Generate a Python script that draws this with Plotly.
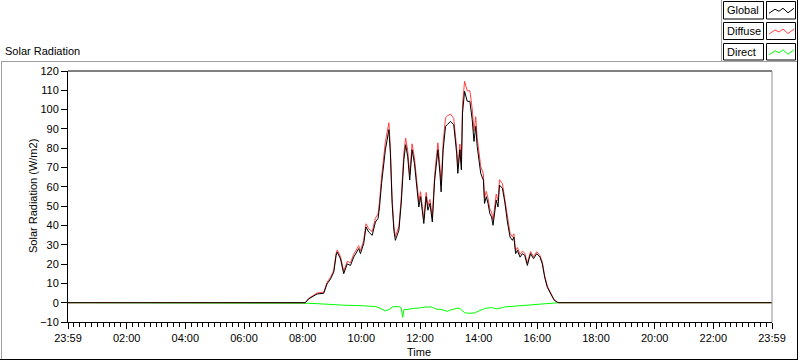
import plotly.graph_objects as go

# ---------------- data ----------------
time_h = [0.0, 8.09, 8.20, 8.49, 8.72, 8.83, 8.95, 9.06, 9.14, 9.18, 9.29, 9.40, 9.52, 9.63, 9.74,
          9.91, 9.97, 10.08, 10.16, 10.25, 10.37, 10.48, 10.57, 10.62, 10.69, 10.76, 10.82,
          10.94, 10.99, 11.05, 11.11, 11.16, 11.28, 11.36, 11.41, 11.45, 11.51, 11.58, 11.65,
          11.73, 11.81, 11.88, 11.96, 12.02, 12.08, 12.13, 12.21, 12.27, 12.34, 12.42, 12.50,
          12.56, 12.61, 12.68, 12.72, 12.79, 12.87, 12.93, 13.04, 13.15, 13.25, 13.29, 13.36,
          13.41, 13.45, 13.52, 13.61, 13.70, 13.78, 13.84, 13.90, 13.95, 14.01, 14.07, 14.16,
          14.20, 14.26, 14.32, 14.38, 14.44, 14.49, 14.55, 14.60, 14.66, 14.71, 14.81, 14.89,
          14.98, 15.07, 15.15, 15.20, 15.26, 15.32, 15.41, 15.49, 15.57, 15.66, 15.72, 15.77,
          15.87, 15.98, 16.09, 16.17, 16.25, 16.34, 16.46, 16.57, 16.68, 16.73, 24.0]

global_wm2 = [0, 0, 1.9, 4.5, 4.9, 9.7, 12.3, 15.8, 24.5, 26.2, 22.7, 15.0, 20.1, 19.3, 23.6,
              28.0, 25.4, 30.6, 39.2, 36.6, 34.9, 41.8, 43.6, 49.6, 61.8, 72.2, 79.2,
              89.6, 77.4, 51.4, 37.5, 32.3, 37.5, 51.4, 63.0, 74.0, 81.8, 75.7, 63.5,
              79.2, 72.2, 61.8, 49.6, 54.9, 47.9, 41.0, 54.9, 47.9, 51.4, 41.8, 63.5,
              74.0, 79.2, 67.0, 57.4, 79.2, 91.3, 92.2, 93.9, 92.2, 77.4, 67.0, 79.2,
              68.8, 98.3, 109.5, 104.3, 104.3, 94.8, 83.5, 91.3, 80.9, 74.8, 67.0, 63.5,
              51.4, 54.9, 51.4, 46.2, 44.4, 40.1, 47.9, 53.1, 49.6, 60.9, 59.2, 52.2,
              41.8, 34.0, 32.3, 34.0, 25.4, 27.1, 23.6, 25.4, 24.5, 19.3, 22.8, 25.4,
              22.8, 25.4, 23.6, 20.1, 13.2, 8.0, 4.5, 1.4, 0.2, 0, 0]

diffuse_wm2 = [0, 0, 2.2, 5.0, 5.5, 10.5, 13.2, 16.8, 25.6, 27.3, 23.9, 16.3, 21.4, 20.7, 25.1,
               29.5, 27.0, 32.2, 40.9, 38.3, 36.8, 43.8, 46.0, 52.4, 65.1, 76.0, 83.4,
               93.2, 80.4, 53.7, 39.6, 34.3, 39.5, 54.2, 70.6, 77.7, 85.3, 79.0, 66.5,
               82.3, 75.1, 64.8, 52.4, 57.5, 50.3, 43.3, 57.1, 50.2, 53.5, 44.2, 66.3,
               77.4, 82.8, 70.3, 60.9, 83.2, 95.8, 96.7, 97.7, 95.4, 80.3, 69.8, 82.2,
               72.4, 102.8, 114.7, 109.7, 109.8, 100.4, 88.9, 96.3, 85.5, 79.0, 70.6, 66.8,
               54.4, 57.7, 54.0, 48.6, 46.9, 42.8, 50.9, 56.3, 52.7, 63.7, 61.7, 54.4,
               43.9, 36.0, 34.1, 35.7, 27.0, 28.6, 25.0, 26.7, 25.7, 20.5, 23.9, 26.5,
               23.8, 26.4, 24.5, 21.0, 14.0, 8.7, 5.0, 1.7, 0.3, 0, 0]

direct_wm2 = [0, 0, -0.3, -0.5, -0.6, -0.8, -0.9, -1.0, -1.1, -1.1, -1.2, -1.3, -1.3, -1.4, -1.5,
              -1.5, -1.6, -1.6, -1.7, -1.7, -1.9, -2.0, -2.4, -2.8, -3.3, -3.8, -4.2,
              -3.6, -3.0, -2.3, -2.1, -2.0, -2.0, -2.8, -7.6, -3.7, -3.5, -3.3, -3.0,
              -3.1, -2.9, -3.0, -2.8, -2.6, -2.4, -2.3, -2.2, -2.3, -2.1, -2.4, -2.8,
              -3.4, -3.6, -3.3, -3.5, -4.0, -4.5, -4.5, -3.8, -3.2, -2.9, -2.8, -3.0,
              -3.6, -4.5, -5.2, -5.4, -5.5, -5.6, -5.4, -5.0, -4.6, -4.2, -3.6, -3.3,
              -3.0, -2.8, -2.6, -2.4, -2.5, -2.7, -3.0, -3.2, -3.1, -2.8, -2.5, -2.2,
              -2.1, -2.0, -1.8, -1.7, -1.6, -1.5, -1.4, -1.3, -1.2, -1.2, -1.1, -1.1,
              -1.0, -1.0, -0.9, -0.9, -0.8, -0.7, -0.5, -0.3, -0.1, 0, 0]

tick_hours = [0, 2, 4, 6, 8, 10, 12, 14, 16, 18, 20, 22, 24]
tick_labels = ["23:59", "02:00", "04:00", "06:00", "08:00", "10:00", "12:00",
               "14:00", "16:00", "18:00", "20:00", "22:00", "23:59"]
legend_names = ["Global", "Diffuse", "Direct"]
series_colors = ["#000000", "#ff4040", "#00ff00"]

# ---------------- layout geometry (pixels) ----------------
W, H = 800, 361
L, R, T, B = 68, 772, 71, 322   # plot area edges in pixels
FONT = "Liberation Sans, Arial, sans-serif"


def px(x):
    return (x - L) / (R - L)


def py(y):
    return (B - y) / (B - T)


fig = go.Figure()
for name, vals, col in [("Direct", direct_wm2, series_colors[2]),
                        ("Diffuse", diffuse_wm2, series_colors[1]),
                        ("Global", global_wm2, series_colors[0])]:
    fig.add_trace(go.Scatter(x=time_h, y=vals, mode="lines", name=name,
                             line=dict(color=col, width=1), showlegend=False))

shapes = []


def line(x0, y0, x1, y1, color, width=1):
    shapes.append(dict(type="line", xref="paper", yref="paper",
                       x0=px(x0), y0=py(y0), x1=px(x1), y1=py(y1),
                       line=dict(color=color, width=width), layer="above"))


# outer frame
line(1, 61.5, 797, 61.5, "#a0a0a0")
line(1.5, 61, 1.5, 360, "#a0a0a0")
line(0, 359.5, 798, 359.5, "#000000")
line(797.5, 0, 797.5, 360, "#000000")
line(721.5, 0, 721.5, 61, "#a0a0a0")
# plot area top / right
line(L, T, R, T, "#000000")
line(R, T, R, B, "#909090")

annotations = []
# legend boxes
rows = [(1.5, 19), (22.5, 39.5), (43.5, 60)]
for (y0, y1), name, col in zip(rows, legend_names, series_colors):
    shapes.append(dict(type="rect", xref="paper", yref="paper",
                       x0=px(723.5), x1=px(763.5), y0=py(y0), y1=py(y1),
                       line=dict(color="black", width=1), fillcolor="white", layer="above"))
    shapes.append(dict(type="rect", xref="paper", yref="paper",
                       x0=px(766.5), x1=px(795.5), y0=py(y0), y1=py(y1),
                       line=dict(color="black", width=1), fillcolor="white", layer="above"))
    ym = (y0 + y1) / 2
    zz = [(769, ym + 3), (775, ym - 1), (779, ym + 1), (783, ym - 2),
          (788, ym + 2.5), (794, ym - 2)]
    path = "M " + " L ".join(f"{px(a)},{py(b)}" for a, b in zz)
    shapes.append(dict(type="path", xref="paper", yref="paper", path=path,
                       line=dict(color=col, width=1), layer="above"))
    annotations.append(dict(text=name, xref="paper", yref="paper", x=px(725), y=py(ym),
                            xanchor="left", yanchor="middle", showarrow=False,
                            font=dict(family=FONT, size=11, color="black")))

annotations += [
    dict(text="Solar Radiation", xref="paper", yref="paper", x=px(3), y=py(51),
         xanchor="left", yanchor="middle", showarrow=False,
         font=dict(family=FONT, size=11, color="black")),
    dict(text="Solar Radiation (W/m2)", xref="paper", yref="paper", x=px(33), y=py(196),
         xanchor="center", yanchor="middle", textangle=-90, showarrow=False,
         font=dict(family=FONT, size=11, color="black")),
    dict(text="Time", xref="paper", yref="paper", x=px(419), y=py(352),
         xanchor="center", yanchor="middle", showarrow=False,
         font=dict(family=FONT, size=11, color="black")),
]

fig.update_layout(
    width=W, height=H,
    margin=dict(l=L, r=W - R, t=T, b=H - B, pad=0),
    paper_bgcolor="white", plot_bgcolor="white",
    font=dict(family=FONT, size=11, color="black"),
    shapes=shapes, annotations=annotations, showlegend=False,
    xaxis=dict(range=[0, 24], tickmode="array", tickvals=tick_hours, ticktext=tick_labels,
               ticks="outside", ticklen=6, tickcolor="black", tickwidth=1,
               showline=True, linecolor="black", linewidth=1, showgrid=False, zeroline=False,
               minor=dict(tickmode="linear", tick0=0, dtick=0.2, ticks="outside",
                          ticklen=4, tickcolor="black", tickwidth=1, showgrid=False),
               tickfont=dict(family=FONT, size=11, color="black"), fixedrange=True),
    yaxis=dict(range=[-10, 120], tickmode="linear", tick0=0, dtick=10,
               ticks="outside", ticklen=6, tickcolor="black", tickwidth=1,
               showline=True, linecolor="black", linewidth=1, showgrid=False, zeroline=False,
               tickfont=dict(family=FONT, size=11, color="black"), fixedrange=True),
)

fig.write_html("out.html", config={"displayModeBar": False},
               post_script="document.body.style.margin='0';document.body.style.overflow='hidden';")
